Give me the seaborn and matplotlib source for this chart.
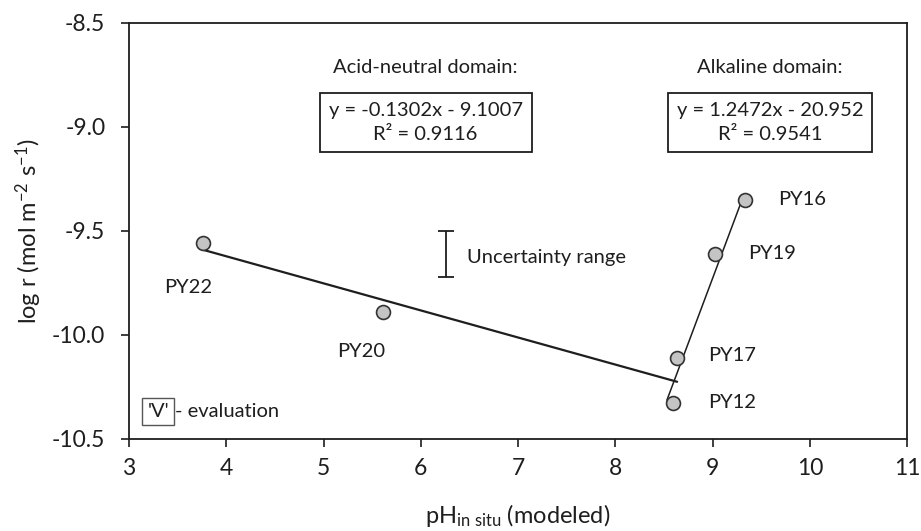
import matplotlib
matplotlib.use("Agg")
import matplotlib.pyplot as plt
import numpy as np
import pandas as pd
import seaborn as sns

# Measured dissolution rates per sample
samples = ["PY22", "PY20", "PY17", "PY12", "PY19", "PY16"]
ph_in_situ = [3.76, 5.61, 8.63, 8.59, 9.02, 9.33]
log_rate = [-9.558, -9.89, -10.11, -10.327, -9.61, -9.35]

# Linear fits for the two pH domains
acid_slope, acid_icept = -0.1302, -9.1007
acid_x = [3.76, 8.635]
alk_slope, alk_icept = 1.2472, -20.952
alk_x = [8.53, 9.32]

# Uncertainty bar
unc_x = 6.26
unc_y = [-9.50, -9.72]

x_ticks = [3, 4, 5, 6, 7, 8, 9, 10, 11]
y_ticks = [-8.5, -9.0, -9.5, -10.0, -10.5]

sns.set_theme(style="ticks")
plt.rcParams["font.family"] = ["Lato", "DejaVu Sans"]
plt.rcParams["mathtext.fontset"] = "custom"
plt.rcParams["mathtext.rm"] = "Lato"
plt.rcParams["mathtext.it"] = "Lato:italic"

fig = plt.figure(figsize=(9.21, 5.31), dpi=100)
ax = fig.add_axes([0.140, 0.1733, 0.845, 0.7834])

dark = "#1e1e1e"
fs = 14.5

fit_df = pd.DataFrame({
    "x": acid_x + alk_x,
    "y": [acid_slope * v + acid_icept for v in acid_x] + [alk_slope * v + alk_icept for v in alk_x],
    "fit": ["acid"] * 2 + ["alk"] * 2,
})
sns.lineplot(data=fit_df[fit_df.fit == "acid"], x="x", y="y", color=dark, lw=1.6, ax=ax)
sns.lineplot(data=fit_df[fit_df.fit == "alk"], x="x", y="y", color=dark, lw=1.1, ax=ax)

pts = pd.DataFrame({"sample": samples, "ph": ph_in_situ, "logr": log_rate})
sns.scatterplot(data=pts, x="ph", y="logr", s=100, color="#c4c4c4",
                edgecolor="#333333", linewidth=1.2, ax=ax, zorder=3)

# Sample labels
label_pos = {
    "PY22": (3.61, -9.77, "center"),
    "PY20": (5.39, -10.08, "center"),
    "PY16": (9.67, -9.35, "left"),
    "PY19": (9.37, -9.61, "left"),
    "PY17": (8.95, -10.10, "left"),
    "PY12": (8.95, -10.325, "left"),
}
for name in samples:
    lx, ly, ha = label_pos[name]
    ax.text(lx, ly, name, ha=ha, va="center", fontsize=fs, color=dark)

# Uncertainty range bar
ymid = np.mean(unc_y)
ax.errorbar([unc_x], [ymid], yerr=[[ymid - unc_y[1]], [unc_y[0] - ymid]],
            fmt="none", ecolor=dark, elinewidth=1.3, capsize=6, capthick=1.3)
ax.text(6.47, -9.627, "Uncertainty range", ha="left", va="center", fontsize=fs, color=dark)

# Fit annotations
box = dict(boxstyle="square,pad=0.45", fc="white", ec=dark, lw=1.3)
ax.text(6.05, -8.716, "Acid-neutral domain:", ha="center", va="center", fontsize=fs, color=dark)
ax.text(6.05, -8.98,
        f"y = {acid_slope}x - {abs(acid_icept):.4f}\nR\u00b2 = 0.9116",
        ha="center", va="center", fontsize=fs, color=dark, linespacing=1.5, bbox=box)
ax.text(9.59, -8.716, "Alkaline domain:", ha="center", va="center", fontsize=fs, color=dark)
ax.text(9.59, -8.98,
        f"y = {alk_slope}x - {abs(alk_icept):.3f}\nR\u00b2 = 0.9541",
        ha="center", va="center", fontsize=fs, color=dark, linespacing=1.5, bbox=box)

# Evaluation note
ax.text(3.30, -10.37, "'V'", ha="center", va="center", fontsize=fs, color=dark,
        bbox=dict(boxstyle="square,pad=0.25", fc="white", ec="#555555", lw=1.0))
ax.text(3.47, -10.37, "- evaluation", ha="left", va="center", fontsize=fs, color=dark)

ax.set_xlim(3, 11)
ax.set_ylim(-10.5, -8.5)
ax.set_xticks(x_ticks)
ax.set_xticklabels([str(t) for t in x_ticks])
ax.set_yticks(y_ticks)
ax.set_yticklabels([f"{t:.1f}" for t in y_ticks])
ax.tick_params(axis="both", direction="out", length=6, width=1.2, colors=dark,
               labelsize=16.5, labelcolor=dark)
ax.tick_params(axis="y", pad=11)
ax.tick_params(axis="x", pad=8)
for sp in ax.spines.values():
    sp.set_visible(True)
    sp.set_color(dark)
    sp.set_linewidth(1.3)

ax.set_xlabel(r"pH$_{\mathregular{in\ situ}}$ (modeled)", fontsize=17, color=dark, labelpad=16)
ax.set_ylabel(r"log r (mol m$^{\mathregular{-2}}$ s$^{\mathregular{-1}}$)", fontsize=17, color=dark, labelpad=6)
if ax.legend_:
    ax.legend_.remove()

fig.savefig("out.png", dpi=100, facecolor="white")
